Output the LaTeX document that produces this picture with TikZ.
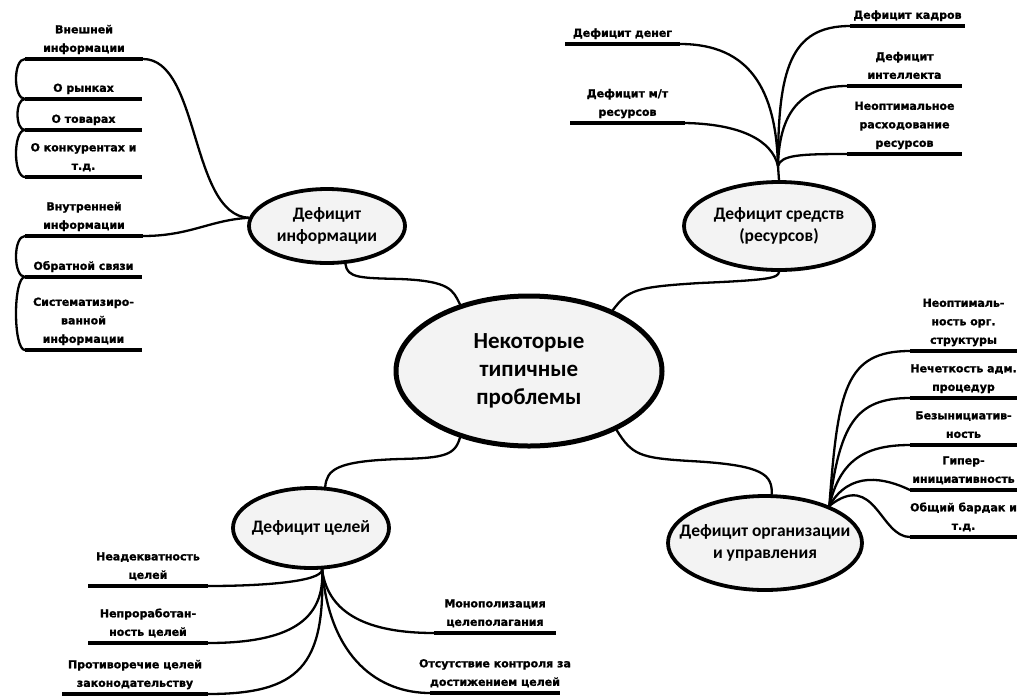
\documentclass[tikz,border=0pt]{standalone}
\usepackage{fontspec}
\setmainfont{Carlito}
\newfontfamily\leaffont[BoldFeatures={FakeBold=1.3}]{DejaVu Sans}
\usetikzlibrary{shapes.geometric}
\definecolor{topicfill}{RGB}{243,243,243}
\tikzset{
  topic/.style={ellipse, draw=black, line width=3.8pt, fill=topicfill, inner xsep=-25pt, inner ysep=-12pt,
    align=center, font=\bfseries\fontsize{17.5}{22}\selectfont},
  link/.style={line width=2.3pt, line cap=round},
  uline/.style={line width=4pt},
  leaf/.style={inner sep=0pt, align=center, text depth=0pt, anchor=south,
    font=\leaffont\bfseries\fontsize{11}{18.5}\selectfont},
}
\newcommand\leafitem[5]{%
  \coordinate (#1-l) at (#2,#4);
  \coordinate (#1-r) at (#3,#4);
  \draw[uline] (#1-l) -- (#1-r);
  \node[leaf] (#1) at ({(#2+#3)/2},{#4-7}) {#5};
}
\begin{document}
\begin{tikzpicture}[x=1pt,y=-1pt]
\useasboundingbox (0,0) rectangle (1017,697);
\clip (0,0) rectangle (1017,697);

% topics
\node[topic, minimum width=266pt, minimum height=150pt, line width=5pt,
  font=\bfseries\fontsize{23}{28}\selectfont] (center) at (529,371) {Некоторые\\типичные\\проблемы};
\node[topic, minimum width=156pt, minimum height=74pt] (info) at (327,226) {Дефицит\\информации};
\node[topic, minimum width=190pt, minimum height=88pt] (res) at (779,226) {Дефицит средств\\(ресурсов)};
\node[topic, minimum width=156pt, minimum height=80pt] (goals) at (311,528) {Дефицит целей};
\node[topic, minimum width=194pt, minimum height=94pt] (org) at (765,543) {Дефицит организации\\и управления};

% main connectors
\draw[link] (info.296) .. controls (347,278) and (360,278) .. (400,279)
  .. controls (450,281) and (453,290) .. (center.136);
\draw[link] (center.36) .. controls (628,290) and (635,287) .. (700,283)
  .. controls (770,280) and (778,278) .. (res.270);
\draw[link] (center.224) .. controls (455,455) and (445,458) .. (400,459)
  .. controls (335,461) and (327,470) .. (goals.71);
\draw[link] (center.326) .. controls (632,455) and (640,458) .. (690,461)
  .. controls (765,465) and (772,475) .. (org.82);

% information leaves
\leafitem{i1}{25}{143}{59}{Внешней\\информации}
\leafitem{i2}{25}{142}{99}{О рынках}
\leafitem{i3}{25}{142}{130}{О товарах}
\leafitem{i4}{25}{142}{177}{О конкурентах и\\т.д.}
\leafitem{i5}{25}{143}{236}{Внутренней\\информации}
\leafitem{i6}{25}{142}{277}{Обратной связи}
\leafitem{i7}{25}{142}{350}{Систематизиро-\\ванной\\информации}
\draw[link] (i1-r) .. controls (200,59) and (190,215) .. (info.174);
\draw[link] (i5-r) .. controls (190,236) and (210,220) .. (info.174);
\draw[link] (i1-l) .. controls (13,59) and (13,99) .. (i2-l);
\draw[link] (i2-l) .. controls (15,99) and (15,130) .. (i3-l);
\draw[link] (i3-l) .. controls (13,130) and (13,177) .. (i4-l);
\draw[link] (i5-l) .. controls (13,236) and (13,277) .. (i6-l);
\draw[link] (i6-l) .. controls (13,277) and (13,350) .. (i7-l);

% resources leaves
\leafitem{r1}{565}{680}{44}{Дефицит денег}
\leafitem{r2}{570}{685}{123}{Дефицит м/т\\ресурсов}
\leafitem{r3}{850}{965}{26}{Дефицит кадров}
\leafitem{r4}{847}{962}{86}{Дефицит\\интеллекта}
\leafitem{r5}{847}{962}{154}{Неоптимальное\\расходование\\ресурсов}
\coordinate (rh) at (778,166);
\draw[link] (res.90) -- (rh);
\draw[link] (r1-r) .. controls (750,44) and (776,90) .. (rh);
\draw[link] (r2-r) .. controls (740,124) and (772,140) .. (rh);
\draw[link] (r3-l) .. controls (790,26) and (778,70) .. (rh);
\draw[link] (r4-l) .. controls (795,86) and (779,120) .. (rh);
\draw[link] (r5-l) .. controls (800,154) and (781,155) .. (rh);

% organisation leaves
\leafitem{o1}{910}{1017}{351}{Неоптималь-\\ность орг.\\структуры}
\leafitem{o2}{910}{1017}{398}{Нечеткость адм.\\процедур}
\leafitem{o3}{910}{1017}{445}{Безынициатив-\\ность}
\leafitem{o4}{910}{1017}{490}{Гипер-\\инициативность}
\leafitem{o5}{910}{1017}{537}{Общий бардак и\\т.д.}
\coordinate (oh) at (org.30);
\draw[link] (oh) .. controls (838,390) and (845,351) .. (o1-l);
\draw[link] (oh) .. controls (840,425) and (855,398) .. (o2-l);
\draw[link] (oh) .. controls (840,460) and (865,445) .. (o3-l);
\draw[link] (oh) .. controls (850,470) and (885,478) .. (o4-l);
\draw[link] (oh) .. controls (875,470) and (880,537) .. (o5-l);

% goals leaves
\leafitem{g1}{88}{208}{586}{Неадекватность\\целей}
\leafitem{g2}{88}{208}{643}{Непроработан-\\ность целей}
\leafitem{g3}{62}{208}{694}{Противоречие целей\\законодательству}
\leafitem{g4}{434}{556}{633}{Монополизация\\целеполагания}
\leafitem{g5}{430}{560}{693}{Отсутствие контроля за\\достижением целей}
\coordinate (gh) at (goals.285);
\draw[link] (gh) .. controls (322,582) and (260,586) .. (g1-r);
\draw[link] (gh) .. controls (325,620) and (290,643) .. (g2-r);
\draw[link] (gh) .. controls (325,665) and (300,694) .. (g3-r);
\draw[link] (gh) .. controls (328,615) and (370,633) .. (g4-l);
\draw[link] (gh) .. controls (330,660) and (380,693) .. (g5-l);
\end{tikzpicture}
\end{document}
